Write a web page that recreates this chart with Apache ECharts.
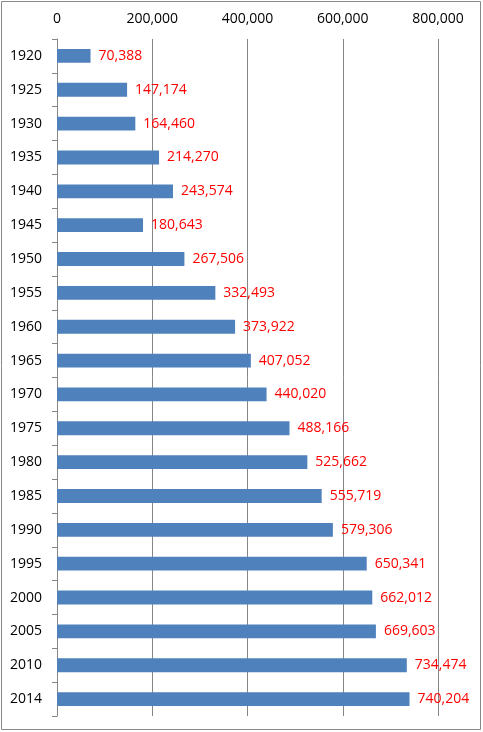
<!DOCTYPE html>
<html>
<head>
<meta charset="utf-8">
<script src="https://cdn.jsdelivr.net/npm/echarts@6/dist/echarts.min.js"></script>
<style>
html, body { margin: 0; padding: 0; background: #fff; }
#chart { width: 483px; height: 732px; }
</style>
</head>
<body>
<div id="chart"></div>
<script>
var years = ['1920', '1925', '1930', '1935', '1940', '1945', '1950', '1955', '1960', '1965',
    '1970', '1975', '1980', '1985', '1990', '1995', '2000', '2005', '2010', '2014'];
var population = [70388, 147174, 164460, 214270, 243574, 180643, 267506, 332493, 373922, 407052,
    440020, 488166, 525662, 555719, 579306, 650341, 662012, 669603, 734474, 740204];
var valueTicks = [0, 200000, 400000, 600000, 800000];

var fontName = 'Open Sans';

function fmt(v) {
    return String(v).replace(/\B(?=(\d{3})+(?!\d))/g, ',');
}

var chart = echarts.init(document.getElementById('chart'));

var option = {
    animation: false,
    backgroundColor: '#fff',
    graphic: [{
        type: 'rect',
        shape: { x: 1.5, y: 1.5, width: 479, height: 728 },
        style: { fill: 'none', stroke: '#888', lineWidth: 1 }
    }],
    grid: {
        left: 57,
        right: 45,
        top: 39,
        bottom: 16
    },
    xAxis: {
        type: 'value',
        position: 'top',
        min: valueTicks[0],
        max: valueTicks[valueTicks.length - 1],
        interval: 200000,
        axisLine: { show: false },
        axisTick: { show: false },
        axisLabel: {
            color: '#000',
            fontFamily: fontName,
            fontSize: 14,
            margin: 13,
            formatter: function (v) { return fmt(v); }
        },
        splitLine: { show: true, lineStyle: { color: '#868686', width: 1 } }
    },
    yAxis: {
        type: 'category',
        inverse: true,
        data: years,
        axisLine: { show: true, lineStyle: { color: '#868686' } },
        axisTick: { show: true, length: 5, lineStyle: { color: '#868686' } },
        axisLabel: {
            color: '#000',
            fontFamily: fontName,
            fontSize: 14,
            margin: 15
        }
    },
    series: [{
        type: 'bar',
        data: population,
        barWidth: '41%',
        itemStyle: { color: '#4f81bd' },
        label: {
            show: true,
            position: 'right',
            distance: 8,
            color: '#ff0000',
            fontFamily: fontName,
            fontSize: 14,
            formatter: function (p) { return fmt(p.value); }
        }
    }]
};

chart.setOption(option);
</script>
</body>
</html>
